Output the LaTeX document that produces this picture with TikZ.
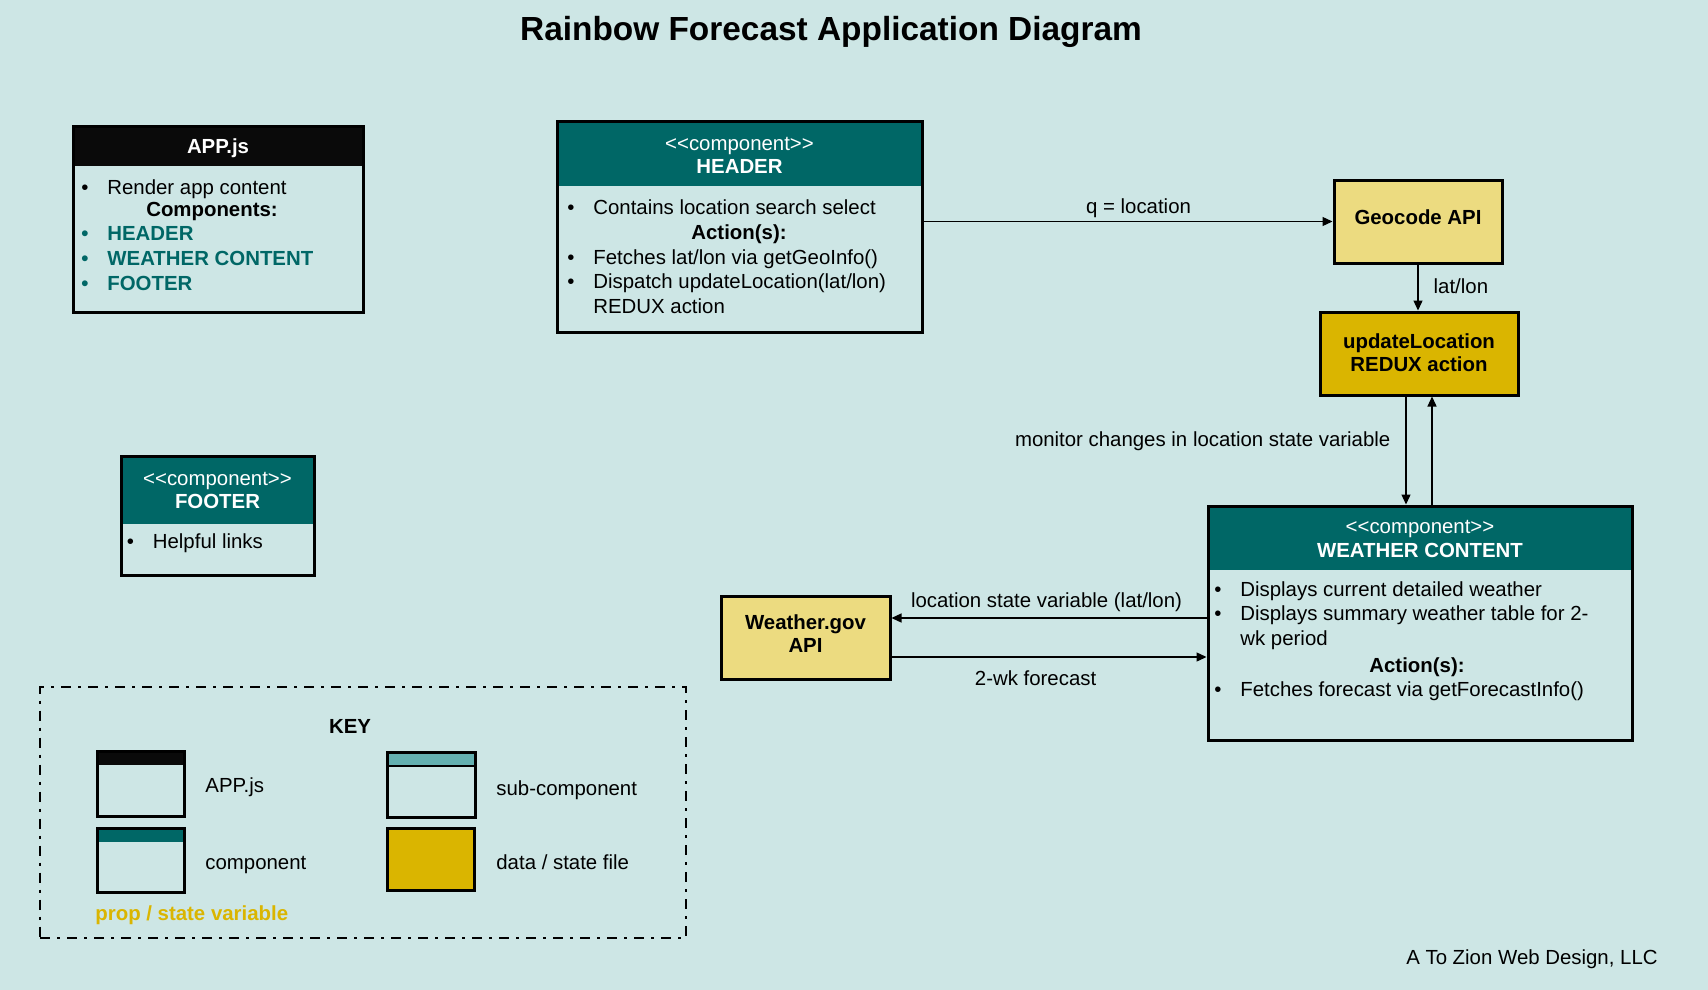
\documentclass[tikz,border=0pt]{standalone}
\usepackage{fontspec}
\setmainfont{Liberation Sans}
\usepackage{tikz}
\usetikzlibrary{arrows.meta,calc,fit}
\definecolor{Backdrop}{RGB}{205, 230, 229}
\definecolor{Teal}{RGB}{0, 103, 102}
\definecolor{SubTeal}{RGB}{100, 176, 176}
\definecolor{ApiYellow}{RGB}{236, 219, 128}
\definecolor{Gold}{RGB}{218, 181, 0}
\definecolor{AppBlack}{RGB}{10, 10, 10}
\newcommand{\bul}{\makebox[13pt][l]{\textbullet}}
\newcommand{\stereo}[1]{<\kern0pt<#1>\kern0pt>}

\begin{document}
\fontsize{10.2}{12.5}\selectfont
\begin{tikzpicture}[x=0.5pt, y=-0.5pt,
    boxframe/.style={draw=black, line width=1.5pt, inner sep=0pt},
    keyframe/.style={draw=black, line width=1pt, inner sep=0pt,
        dash pattern=on 5pt off 3.5pt on 1.5pt off 3.5pt},
    textline/.style={inner sep=0pt, anchor=base, yshift=-3.65pt},
    bulletline/.style={textline, anchor=base west},
    flow/.style={line width=0.65pt, -{Triangle[length=5pt, width=4.5pt]}}]
    %% Background
    \fill[Backdrop] (0,0) rectangle (1708,990);

    \node[textline, yshift=-2.35pt, font=\bfseries\fontsize{16.7}{20}\selectfont] (title) at (831,28.3)
    {Rainbow Forecast Application Diagram};

    %% APP.js
    \fill[AppBlack] (73,127) rectangle (363,166);
    \node[boxframe, fit={(73,127) (363,312)}] (app) {};
    \node[textline, text=white, font=\bfseries] (app-title) at (218,146.7) {APP.js};
    \node[bulletline] (app-1) at (81,187.3) {\bul Render app content};
    \node[textline, font=\bfseries] (app-2) at (212,209.3) {Components:};
    \node[bulletline, text=Teal, font=\bfseries] (app-3) at (81,232.7) {\bul HEADER};
    \node[bulletline, text=Teal, font=\bfseries] (app-4) at (81,257.7) {\bul WEATHER CONTENT};
    \node[bulletline, text=Teal, font=\bfseries] (app-5) at (81,282.7) {\bul FOOTER};

    %% HEADER
    \fill[Teal] (557,122) rectangle (922,186);
    \node[boxframe, fit={(557,122) (922,332)}] (header) {};
    \node[textline, text=white] (header-tag) at (739.5,142.7) {\stereo{component}};
    \node[textline, text=white, font=\bfseries] (header-title) at (739.5,165.7) {HEADER};
    \node[bulletline] (header-1) at (567,207.3) {\bul Contains location search select};
    \node[textline, font=\bfseries] (header-2) at (739,231.7) {Action(s):};
    \node[bulletline] (header-3) at (567,256.7) {\bul Fetches lat/lon via getGeoInfo()};
    \node[bulletline] (header-4) at (567,281) {\bul Dispatch updateLocation(lat/lon)};
    \node[bulletline] (header-5) at (593,306) {REDUX action};

    %% FOOTER
    \fill[Teal] (121,456.5) rectangle (314,524);
    \node[boxframe, fit={(121,456.5) (314,575)}] (footer) {};
    \node[textline, text=white] (footer-tag) at (217.5,477.9) {\stereo{component}};
    \node[textline, text=white, font=\bfseries] (footer-title) at (217.5,501.4) {FOOTER};
    \node[bulletline] (footer-1) at (126.5,540.7) {\bul Helpful links};

    %% Data / APIs
    \node[boxframe, fill=ApiYellow, fit={(1334,180) (1502,263)}] (geo) {};
    \node[textline, font=\bfseries] (geo-1) at (1418,216.7) {Geocode API};

    \node[boxframe, fill=Gold, fit={(1320,312) (1518,395)}] (update) {};
    \node[textline, font=\bfseries] (update-1) at (1419,340.7) {updateLocation};
    \node[textline, font=\bfseries] (update-2) at (1419,364) {REDUX action};

    \node[boxframe, fill=ApiYellow, fit={(721,596) (890,679)}] (wgov) {};
    \node[textline, font=\bfseries] (wgov-1) at (805.5,621.7) {Weather.gov};
    \node[textline, font=\bfseries] (wgov-2) at (805.5,645) {API};

    %% WEATHER CONTENT
    \fill[Teal] (1208,506) rectangle (1632,570);
    \node[boxframe, fit={(1208,506) (1632,740)}] (weather) {};
    \node[textline, text=white] (weather-tag) at (1420,526) {\stereo{component}};
    \node[textline, text=white, font=\bfseries] (weather-title) at (1420,550) {WEATHER CONTENT};
    \node[bulletline] (weather-1) at (1214,589.3) {\bul Displays current detailed weather};
    \node[bulletline] (weather-2) at (1214,613.3) {\bul Displays summary weather table for 2-};
    \node[bulletline] (weather-3) at (1240,637.7) {wk period};
    \node[textline, font=\bfseries] (weather-4) at (1417,665) {Action(s):};
    \node[bulletline] (weather-5) at (1214,689.3) {\bul Fetches forecast via getForecastInfo()};

    %% Connectors
    \draw[flow] (header.east |- geo.west) to
    node[midway, textline, xshift=5.25pt, yshift=7.5pt] (q-lbl) {q = location} (geo.west);
    \draw[flow] (geo.south) to
    node[midway, textline, anchor=base west, xshift=7.5pt, yshift=0.75pt] (latlon-lbl) {lat/lon}
    (geo.south |- update.north);
    \draw[flow] ($(update.south)+(-13,0)$) to
    node[midway, textline, anchor=base east, xshift=-7.5pt, yshift=5.6pt] (monitor-lbl)
    {monitor changes in location state variable}
    ($(update.south |- weather.north)+(-13,0)$);
    \draw[flow] ($(update.south |- weather.north)+(13,0)$) to ($(update.south)+(13,0)$);
    \draw[flow] ($(weather.west |- wgov.east)+(0,-19.5)$) to
    node[midway, textline, xshift=-1.25pt, yshift=9pt] (loc-lbl) {location state variable (lat/lon)}
    ($(wgov.east)+(0,-19.5)$);
    \draw[flow] ($(wgov.east)+(0,19.5)$) to
    node[midway, textline, xshift=-6.7pt, yshift=-10.35pt] (fc-lbl) {2-wk forecast}
    ($(weather.west |- wgov.east)+(0,19.5)$);

    %% Key
    \node[keyframe, fit={(40,687) (686,937.5)}] (key) {};
    \node[textline, font=\bfseries] (key-title) at (350,726) {KEY};

    \fill[AppBlack] (97,751) rectangle (184,764.5);
    \node[boxframe, fit={(97,751) (184,816)}] (key-app) {};
    \node[bulletline] (key-app-lbl) at (205,785) {APP.js};

    \fill[SubTeal] (387,752) rectangle (475,766);
    \draw[line width=0.6pt] (387,766) to (475,766);
    \node[boxframe, fit={(387,752) (475,817)}] (key-sub) {};
    \node[bulletline] (key-sub-lbl) at (496,788) {sub-component};

    \fill[Teal] (97,828.5) rectangle (184,842);
    \node[boxframe, fit={(97,828.5) (184,892)}] (key-comp) {};
    \node[bulletline] (key-comp-lbl) at (205,862) {component};

    \node[boxframe, fill=Gold, fit={(387,828.5) (474,890)}] (key-data) {};
    \node[bulletline] (key-data-lbl) at (496,862) {data / state file};

    \node[bulletline, text=Gold, font=\bfseries] (key-prop) at (95,913.5) {prop / state variable};

    \node[textline, anchor=base east] (credit) at (1658,956.7) {A To Zion Web Design, LLC};
\end{tikzpicture}
\end{document}
